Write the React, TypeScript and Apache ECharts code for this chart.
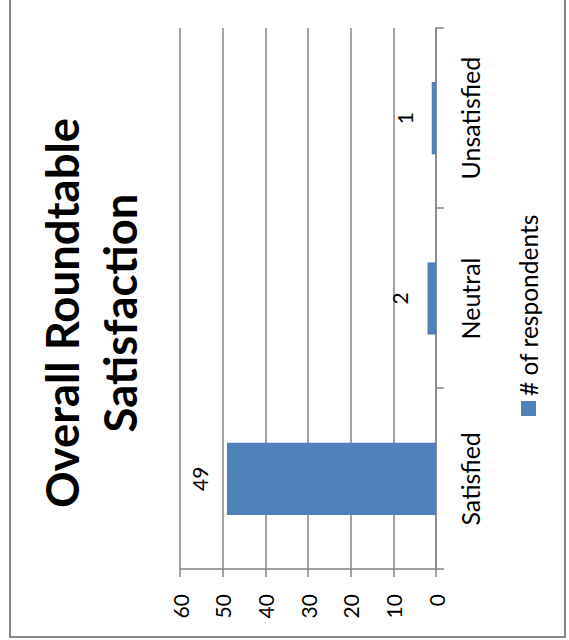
import React, { useEffect, useRef } from "react";
import * as echarts from "echarts";

const categories = ["Satisfied", "Neutral", "Unsatisfied"];
const respondents = [49, 2, 1];
const seriesName = "# of respondents";
const titleText = "Overall Roundtable\nSatisfaction";
const valueMin = 0;
const valueMax = 60;
const valueStep = 10;

const W = 640; // unrotated chart width
const H = 557; // unrotated chart height
const FONT = "Lato";
const GRAY = "#868686";

export default function App() {
  const ref = useRef<HTMLDivElement>(null);
  useEffect(() => {
    if (!ref.current) return;
    const chart = echarts.init(ref.current, undefined, { renderer: "svg", width: W, height: H });
    chart.setOption({
      animation: false,
      backgroundColor: "#fff",
      title: {
        text: titleText,
        left: W / 2,
        top: 18,
        textAlign: "center",
        textStyle: { fontFamily: FONT, fontSize: 45.5, fontWeight: "bold", color: "#000", lineHeight: 58 },
      },
      legend: {
        data: [seriesName],
        orient: "horizontal",
        left: 217,
        top: 502,
        icon: "rect",
        itemWidth: 15,
        itemHeight: 15,
        textStyle: { fontFamily: FONT, fontSize: 24.5, color: "#000" },
      },
      grid: { left: 69, right: 30, top: 171, bottom: 130, containLabel: false },
      xAxis: {
        type: "category",
        data: categories,
        axisLine: { show: true, lineStyle: { color: GRAY, width: 1.5 } },
        axisTick: { show: true, length: 8, lineStyle: { color: GRAY, width: 1.5 } },
        axisLabel: { fontFamily: FONT, fontSize: 25, color: "#000", margin: 21 },
      },
      yAxis: {
        type: "value",
        min: valueMin,
        max: valueMax,
        interval: valueStep,
        axisLine: { show: true, lineStyle: { color: GRAY, width: 1.5 } },
        axisTick: { show: true, length: 8, lineStyle: { color: GRAY, width: 1.5 } },
        splitLine: { show: true, lineStyle: { color: GRAY, width: 1.5 } },
        axisLabel: { fontFamily: FONT, fontSize: 21, color: "#000", margin: 25 },
      },
      series: [
        {
          name: seriesName,
          type: "bar",
          data: respondents,
          barWidth: "40%",
          itemStyle: { color: "#4F81BD" },
          label: {
            show: true,
            position: "top",
            distance: 17,
            fontFamily: FONT,
            fontSize: 21,
            color: "#000",
          },
        },
      ],
      graphic: [
        {
          type: "rect",
          silent: true,
          shape: { x: 1, y: 1, width: W - 2, height: H - 2 },
          style: { fill: "none", stroke: GRAY, lineWidth: 2 },
          z: -1,
        },
      ],
    });
    return () => chart.dispose();
  }, []);

  return (
    <div
      style={{
        position: "fixed",
        left: 0,
        top: 0,
        width: 569,
        height: 640,
        overflow: "hidden",
        background: "#fff",
      }}
    >
      <div
        ref={ref}
        style={{
          position: "absolute",
          left: 0,
          top: 0,
          width: W,
          height: H,
          transformOrigin: "0 0",
          transform: "translate(9px, 638px) rotate(-90deg)",
        }}
      />
    </div>
  );
}
